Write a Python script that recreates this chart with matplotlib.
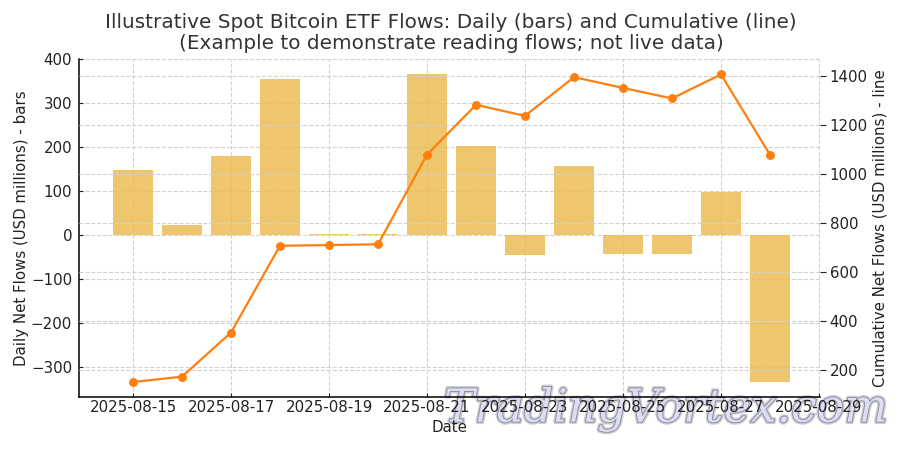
import matplotlib
matplotlib.use("Agg")
import matplotlib.pyplot as plt
import matplotlib.dates as mdates
import matplotlib.patheffects as pe
from datetime import date, timedelta

start = date(2025, 8, 15)
dates = [start + timedelta(days=i) for i in range(14)]
daily = [148, 22, 180, 354, 3, 3, 365, 203, -45, 158, -44, -43, 98, -333]
cumulative = [151, 173, 353, 707, 710, 713, 1079, 1282, 1237, 1395, 1351, 1308, 1406, 1078]
ticks = [date(2025, 8, d) for d in range(15, 30, 2)]

fig = plt.figure(figsize=(9, 4.5), dpi=100)
ax = fig.add_axes([79 / 900, 1 - 397 / 450, (820 - 79) / 900, (397 - 59) / 450])
ax2 = ax.twinx()
ax.set_zorder(1)
ax2.set_zorder(2)
ax2.patch.set_visible(False)
ax.patch.set_visible(False)

ax.bar(dates, daily, width=0.8, color="#ecbc55", alpha=0.85, zorder=2)
ax2.plot(dates, cumulative, color="#ff7f0e", lw=1.6, marker="o", ms=5.4, zorder=3)

ax.set_xlim(mdates.date2num(date(2025, 8, 15)) - 54 / 49, mdates.date2num(date(2025, 8, 29)) + 0.02)
ax.set_ylim(-368, 400)
ax2.set_ylim(90, 1469)
ax.set_yticks([-300, -200, -100, 0, 100, 200, 300, 400])
ax2.set_yticks([200, 400, 600, 800, 1000, 1200, 1400])
ax.set_xticks(ticks)
ax.xaxis.set_major_formatter(mdates.DateFormatter("%Y-%m-%d"))

for a in (ax, ax2):
    a.spines["top"].set_visible(False)
    a.grid(True, axis="y", ls="--", lw=0.8, color="#d2d2d2", zorder=0)
    a.set_axisbelow(True)
ax.tick_params(axis="y", labelsize=10.8, colors="#222222", direction="in", length=3, pad=5)
ax.tick_params(axis="x", labelsize=10.8, colors="#222222", direction="in", length=3, pad=2)
ax2.tick_params(axis="y", labelsize=10.8, colors="#222222", direction="out", length=4, pad=3)
ax.grid(True, axis="x", ls="--", lw=0.8, color="#d2d2d2", zorder=0)
ax.spines["right"].set_visible(False)
ax.spines["left"].set_linewidth(1.1)
ax.spines["bottom"].set_linewidth(1.1)
ax2.spines["right"].set_visible(False)
ax2.spines["left"].set_visible(False)
ax2.spines["bottom"].set_visible(False)

ax.set_xlabel("Date", fontsize=10.8, color="#222222", labelpad=4)
ax.set_ylabel("Daily Net Flows (USD millions) - bars", fontsize=10.8, color="#222222", labelpad=1)
ax2.set_ylabel("Cumulative Net Flows (USD millions) - line", fontsize=10.8, color="#222222", labelpad=3)
fig.text(451 / 900, 1 - 33 / 450, "Illustrative Spot Bitcoin ETF Flows: Daily (bars) and Cumulative (line)\n"
         "(Example to demonstrate reading flows; not live data)",
         ha="center", va="center", fontsize=14.4, color="#333333", linespacing=1.15)

wm = fig.text(666 / 900, 1 - 409 / 450, "TradingVortex.com", ha="center", va="center",
              fontsize=33, style="italic", family="DejaVu Serif", color="#dedef2", zorder=0)
wm.set_path_effects([pe.Stroke(linewidth=3.4, foreground="#cfcfd4"),
                     pe.Stroke(linewidth=1.3, foreground="#8a8aa0"),
                     pe.Normal()])

fig.savefig("out.png", dpi=100)
